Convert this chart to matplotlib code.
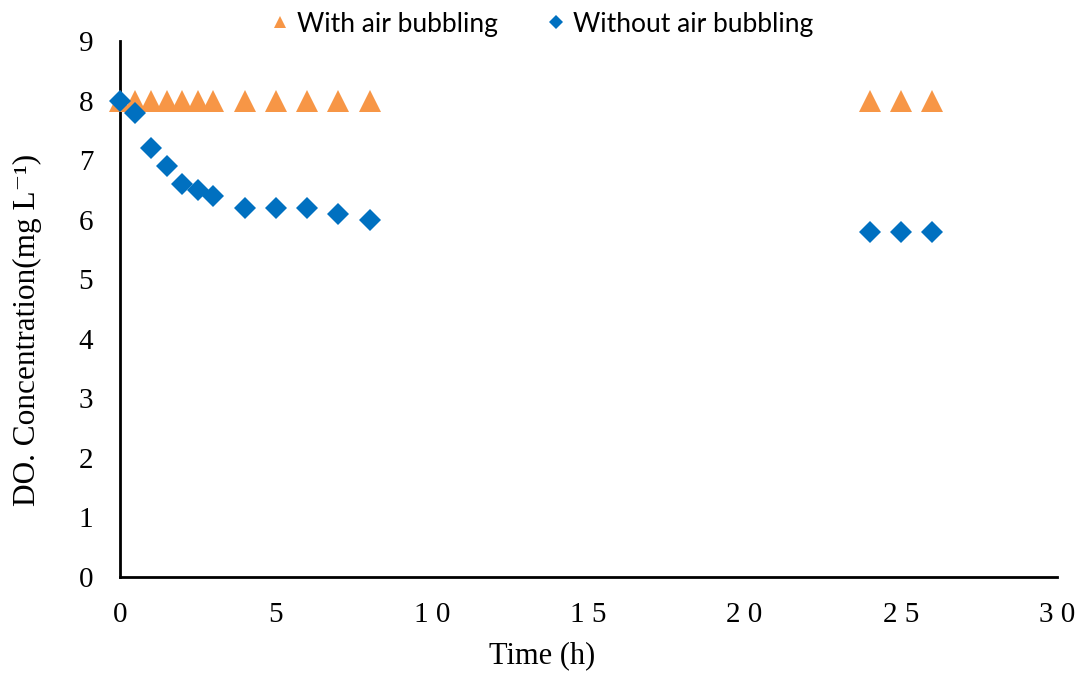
import matplotlib
matplotlib.use("Agg")
import matplotlib.pyplot as plt
from matplotlib.lines import Line2D

time_with = [0, 0.5, 1, 1.5, 2, 2.5, 3, 4, 5, 6, 7, 8, 24, 25, 26]
do_with = [8.0, 8.0, 8.0, 8.0, 8.0, 8.0, 8.0, 8.0, 8.0, 8.0, 8.0, 8.0, 8.0, 8.0, 8.0]
time_without = [0, 0.5, 1, 1.5, 2, 2.5, 3, 4, 5, 6, 7, 8, 24, 25, 26]
do_without = [8.0, 7.8, 7.2, 6.9, 6.6, 6.5, 6.4, 6.2, 6.2, 6.2, 6.1, 6.0, 5.8, 5.8, 5.8]
xticks = [0, 5, 10, 15, 20, 25, 30]
xtick_labels = ["0", "5", "1 0", "1 5", "2 0", "2 5", "3 0"]
yticks = list(range(0, 10))

orange = "#F79646"
blue = "#0070C0"
serif = ["Liberation Serif", "DejaVu Serif"]

fig = plt.figure(figsize=(10.88, 6.73), dpi=100)
ax = fig.add_axes([0.110, 0.1426, 0.8615, 0.7964])

ax.plot(time_with, do_with, linestyle="none", marker="^", markersize=15.5,
        color=orange, markeredgewidth=0, label="With air bubbling", clip_on=False, zorder=3)
ax.plot(time_without, do_without, linestyle="none", marker="D", markersize=11,
        color=blue, markeredgewidth=0, label="Without air bubbling", clip_on=False, zorder=4)

ax.set_xlim(0, 30)
ax.set_ylim(0, 9)
ax.set_xticks(xticks)
ax.set_xticklabels(xtick_labels)
ax.set_yticks(yticks)
for s in ["top", "right"]:
    ax.spines[s].set_visible(False)
for s in ["left", "bottom"]:
    ax.spines[s].set_linewidth(2)
    ax.spines[s].set_color("black")
ax.tick_params(axis="both", length=0, labelsize=21)
ax.tick_params(axis="x", pad=18)
ax.tick_params(axis="y", pad=19)
for lab in ax.get_xticklabels() + ax.get_yticklabels():
    lab.set_fontfamily(serif)

ax.set_xlabel("Time (h)", fontsize=22, fontfamily=serif, va="top")
ax.xaxis.set_label_coords(0.451, -0.119)
ax.set_ylabel("DO. Concentration(mg L\u207b\u00b9)", fontsize=22.5,
              fontfamily=serif, va="center")
ax.yaxis.set_label_coords(-0.098, 0.461)

handles = [
    Line2D([], [], linestyle="none", marker="^", markersize=9, color=orange, markeredgewidth=0),
    Line2D([], [], linestyle="none", marker="D", markersize=7, color=blue, markeredgewidth=0),
]
fig.legend(handles, ["With air bubbling", "Without air bubbling"], loc="center",
           bbox_to_anchor=(0.4965, 0.964), ncol=2, frameon=False,
           prop={"family": "Lato", "size": 19}, handletextpad=0.15, columnspacing=1.7,
           handlelength=1.0)

fig.savefig("out.png", dpi=100)
